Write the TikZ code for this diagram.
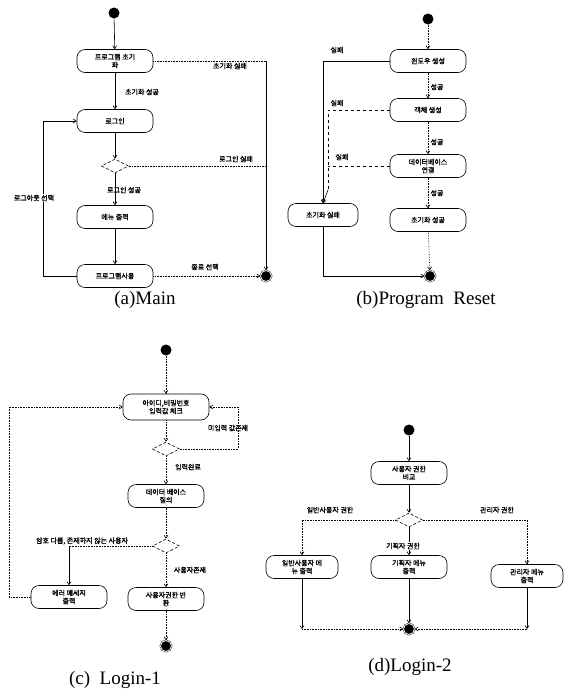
\documentclass[tikz,border=0pt]{standalone}
\usepackage{fontspec}
\setmainfont{Liberation Serif}
\newfontfamily\kr[AutoFakeBold=1.5]{Noto Sans CJK KR}
\usepackage{tikz}
\usetikzlibrary{arrows.meta,positioning,shapes.geometric,calc}

\tikzset{
  act/.style={draw, line width=0.6pt, rounded corners=8pt, fill=white, minimum width=76pt, minimum height=23pt,
    inner sep=1pt, align=center, font=\kr\bfseries\fontsize{7}{8}\selectfont},
  dec/.style={draw, line width=0.6pt, densely dashed, diamond, aspect=2.2, fill=white, minimum width=27pt, minimum height=14pt, inner sep=0pt},
  startdot/.style={circle, fill=black, minimum size=11pt, inner sep=0pt},
  enddot/.style={circle, draw=black, fill=black, minimum size=11pt, inner sep=0pt, double=white, double distance=0.8pt},
  lbl/.style={font=\kr\bfseries\fontsize{7}{8}\selectfont, inner sep=1pt},
  flow/.style={-{Straight Barb[length=3pt,width=4pt]}, line width=0.6pt},
  dflow/.style={-{Straight Barb[length=3pt,width=4pt]}, line width=0.6pt, densely dotted},
  captxt/.style={font=\fontsize{19}{21}\selectfont}
}

\begin{document}
\begin{tikzpicture}[x=1pt,y=-1pt]
    \useasboundingbox (0,0) rectangle (563,699);

    % (a) Main
    \node[startdot] (a0) at (114,13) {};
    \node[act] (a1) at (115,61) {프로그램 초기\\화};
    \node[act] (a2) at (115,121) {로그인};
    \node[dec] (ad) at (115,166) {};
    \node[act] (a3) at (115,217) {메뉴 출력};
    \node[act] (a4) at (115,276) {프로그램사용};
    \node[enddot] (aend) at (266,276) {};
    \coordinate (ar) at (266,61);
    \coordinate (al1) at (43,276);
    \coordinate (al2) at (43,121);
    \draw[flow] (a0) -- (a1);
    \draw[line width=0.6pt, densely dotted] (a1) -- (ar);
    \draw[flow] (ar) -- (aend);
    \node[lbl] at (230,66) {초기화 실패};
    \draw[flow] (a1) -- (a2);
    \node[lbl] at (142,92) {초기화 성공};
    \draw[flow] (a2) -- (ad);
    \draw[line width=0.6pt, densely dotted] (ad.east) -- (ad.east -| aend);
    \node[lbl] at (236,159) {로그인 실패};
    \draw[flow] (ad) -- (a3);
    \node[lbl] at (124,190) {로그인 성공};
    \draw[flow] (a3) -- (a4);
    \draw[dflow] (a4) -- (aend);
    \node[lbl] at (205,267) {종료 선택};
    \draw[flow] (a4.west) -- (al1) -- (al2) -- (a2.west);
    \node[lbl,fill=white] at (34,198) {로그아웃 선택};
    \node[captxt] (acap) at (145,300) {(a)Main};

    % (b) Program Reset
    \node[startdot] (b0) at (428,19) {};
    \node[act] (b1) at (428,61) {윈도우 생성};
    \node[act] (b2) at (428,110) {객체 생성};
    \node[act] (b3) at (428,166) {데이터베이스\\연결};
    \node[act] (b5) at (428,220) {초기화 성공};
    \node[act, minimum width=70pt] (b4) at (323,215) {초기화 실패};
    \node[enddot] (bend) at (430,276) {};
    \coordinate (bk1) at (328,110);
    \coordinate (bk2) at (328,166);
    \coordinate (bk3) at (328,190);
    \coordinate (bk4) at (323,276);
    \draw[dflow] (b0) -- (b1);
    \draw[dflow] (b1) -- (b2);
    \node[lbl] at (437,87) {성공};
    \draw[dflow] (b2) -- (b3);
    \node[lbl] at (437,142) {성공};
    \draw[dflow] (b3) -- (b5);
    \node[lbl] at (437,193) {성공};
    \draw[dflow] (b5) -- (bend);
    \draw[flow] (b1.west) -| (b4.north);
    \node[lbl] at (337,50) {실패};
    \draw[line width=0.6pt, dashed] (b2.west) -- (bk1) -- (bk3);
    \node[lbl] at (337,103) {실패};
    \draw[line width=0.6pt, dashed] (b3.west) -- (bk2);
    \node[lbl] at (342,157) {실패};
    \draw[flow] (bk3) -- (b4.north);
    \draw[flow] (b4) -- (bk4) -- (bend);
    \node[captxt] (bcap) at (426,300) {(b)Program\ \ Reset};

    % (c) Login-1
    \node[startdot] (c0) at (166,350) {};
    \node[act, minimum width=86pt, minimum height=26pt] (c1) at (166,407) {아이디,비밀번호\\입력값 체크};
    \node[dec] (cd1) at (166,449) {};
    \node[act] (c2) at (166,496) {데이터 베이스\\질의};
    \node[dec] (cd2) at (166,546) {};
    \node[act] (c3) at (69,597) {에러 메세지\\출력};
    \node[act] (c4) at (166,599) {사용자권한 반\\환};
    \node[enddot] (cend) at (166,646) {};
    \coordinate (cr1) at (238,449);
    \coordinate (cr2) at (238,407);
    \coordinate (cl1) at (9,597);
    \coordinate (cl2) at (9,407);
    \coordinate (cm) at (69,546);
    \draw[dflow] (c0) -- (c1);
    \draw[dflow] (c1) -- (cd1);
    \draw[dflow] (cd1.east) -- (cr1) -- (cr2) -- (c1.east);
    \node[lbl] at (228,428) {미입력 값존재};
    \draw[dflow] (cd1) -- (c2);
    \node[lbl] at (188,467) {입력완료};
    \draw[dflow] (c2) -- (cd2);
    \draw[line width=0.6pt, densely dotted] (cd2.west) -- (cm);
    \draw[flow] (cm) -- (c3);
    \node[lbl] at (82,541) {암호 다름, 존재하지 않는 사용자};
    \draw[dflow] (cd2) -- (c4);
    \node[lbl] at (190,570) {사용자존재};
    \draw[dflow] (c4) -- (cend);
    \draw[dflow] (c3.west) -- (cl1) -- (cl2) -- (c1.west);
    \node[captxt] (ccap) at (115,680) {(c)\ \ Login-1};

    % (d) Login-2
    \node[startdot] (d0) at (409,430) {};
    \node[act] (d1) at (409,473) {사용자 권한\\비교};
    \node[dec] (dd) at (409,520) {};
    \node[act, minimum width=72pt] (d2) at (302,567) {일반사용자 메\\뉴 출력};
    \node[act] (d3) at (409,567) {기획자 메뉴\\출력};
    \node[act, minimum width=72pt] (d4) at (527,576) {관리자 메뉴\\출력};
    \node[enddot] (dend) at (409,629) {};
    \coordinate (dl) at (302,629);
    \coordinate (dr) at (527,629);
    \draw[flow] (d0) -- (d1);
    \draw[flow] (d1) -- (dd);
    \draw[dflow] (dd.west) -| (d2.north);
    \node[lbl] at (330,510) {일반사용자 권한};
    \draw[dflow] (dd.east) -| (d4.north);
    \node[lbl] at (497,510) {관리자 권한};
    \draw[flow] (dd) -- (d3);
    \node[lbl,fill=white] at (403,546) {기획자 권한};
    \draw[flow] (d2) -- (dl);
    \draw[dflow] (dl) -- (dend);
    \draw[flow] (d3) -- (dend);
    \draw[flow] (d4) -- (dr);
    \draw[dflow] (dr) -- (dend);
    \node[captxt] (dcap) at (410,667) {(d)Login-2};
\end{tikzpicture}
\end{document}
